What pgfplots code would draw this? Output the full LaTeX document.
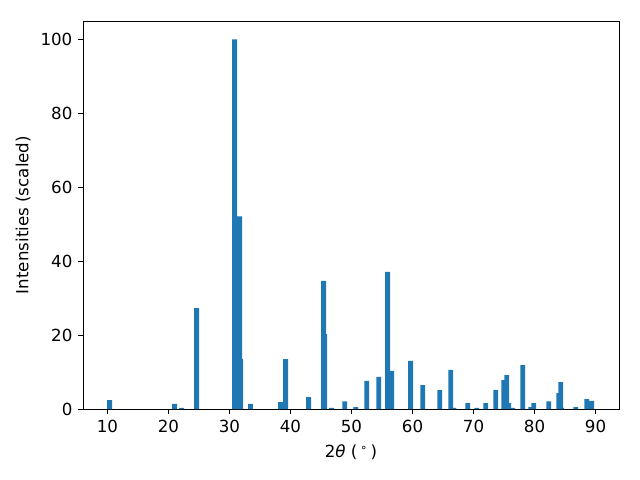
\documentclass[border=0pt]{standalone}
\usepackage{pgfplots}
\pgfplotsset{compat=1.18}
\usepackage{fontspec}
\setmainfont{DejaVu Sans}
\usetikzlibrary{calc}
\definecolor{mplblue}{HTML}{1F77B4}
\begin{document}
\fontsize{12}{14}\selectfont
\begin{tikzpicture}
\begin{axis}[
  scale only axis,
  width=385.9pt, height=279.4pt,
  xmin=6.0, xmax=93.85, ymin=0, ymax=105,
  xtick={10,20,...,90}, ytick={0,20,...,100},
  xtick pos=left, ytick pos=left,
  tick align=outside,
  major tick length=3.5pt,
  every tick/.style={black, line width=0.6pt},
  axis line style={line width=0.6pt},
  /pgf/number format/assume math mode=true,
  ticklabel style={font=\fontsize{12}{14}\selectfont},
  label style={font=\fontsize{12}{14}\selectfont},
  xlabel={2\textit{θ} (\,\textsuperscript{∘}\,)},
  ylabel={Intensities (scaled)},
  xlabel style={yshift=-1pt},
  ylabel style={yshift=-1pt},
  ybar, bar width=0.8,
]
\addplot[fill=mplblue, draw=none] coordinates {
(10.36,2.4) (21.0,1.4) (22.16,0.3) (24.62,27.3) (30.85,100) (31.67,52.1)
(31.85,13.5) (33.44,1.4) (38.39,1.9) (39.21,13.5) (42.98,3.25) (45.44,34.7)
(45.62,20.3) (46.75,0.3) (48.89,2.1) (50.69,0.5) (52.49,7.6) (54.46,8.7)
(55.93,37.1) (56.6,10.3) (59.7,13.0) (61.67,6.5) (64.46,5.1) (66.26,10.6)
(66.77,0.3) (69.05,1.6) (70.52,0.3) (72.0,1.6) (73.64,5.1) (74.95,7.8)
(75.44,9.2) (75.77,1.6) (76.43,0.3) (78.07,11.9) (79.38,0.5) (79.87,1.6)
(82.33,2.1) (83.98,4.3) (84.3,7.3) (84.46,0.3) (86.75,0.5) (88.56,2.7)
(89.38,2.2)
};
\end{axis}
\path ($(current axis.south west)+(-59.8pt,-51.1pt)$) rectangle ($(current axis.north east)+(15.1pt,15.1pt)$);
\end{tikzpicture}
\end{document}
